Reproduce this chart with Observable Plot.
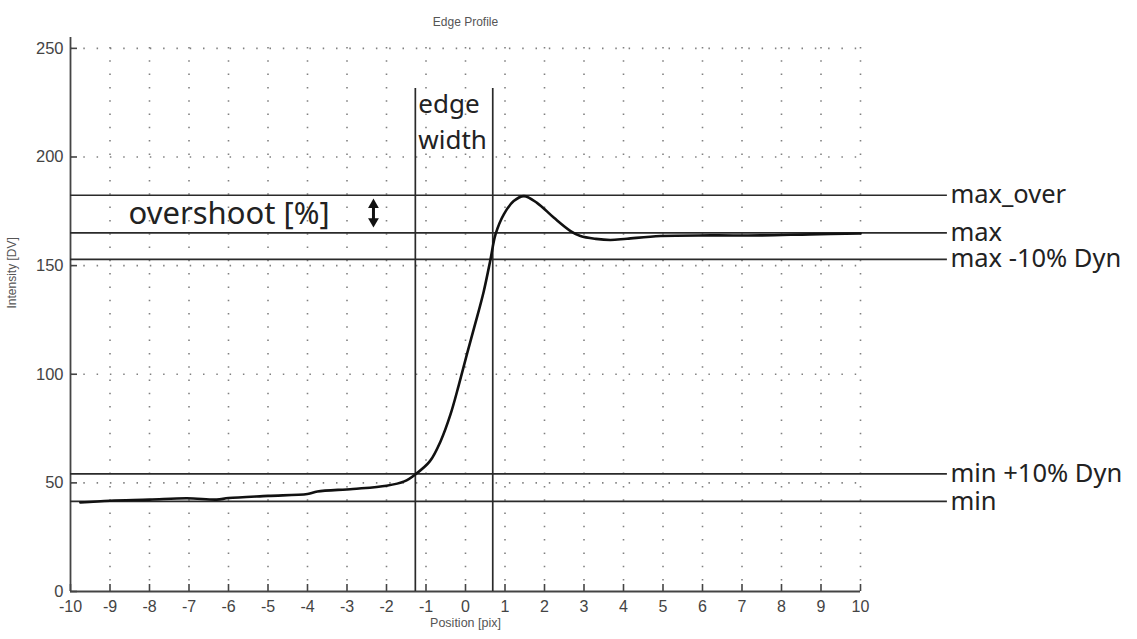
<!DOCTYPE html>
<html><head><meta charset="utf-8">
<script src="https://cdn.jsdelivr.net/npm/d3@7"></script>
<script src="https://cdn.jsdelivr.net/npm/@observablehq/plot@0.6"></script>
<style>body{margin:0;background:#fff}</style>
</head><body><div id="chart"></div>
<script>
// Edge profile samples
const positions   = [-9.75,-9.0,-8.0,-7.05,-6.3,-6.0,-5.0,-4.0,-3.75,-2.85,-2.0,-1.55,-1.27,-0.9,-0.63,-0.38,-0.17,0.04,0.25,0.46,0.63,0.76,0.97,1.22,1.48,1.81,2.24,2.66,2.91,3.3,3.67,4.09,4.94,6.2,7.47,8.73,10];
const intensities = [41.0,41.8,42.3,42.9,42.3,43.0,44.0,44.9,46.0,47.2,48.7,50.7,53.9,60.0,69.2,81.5,95.0,109.5,123.5,138.0,152.6,164.4,173.6,179.7,182.0,178.9,172.0,165.9,163.6,162.3,161.8,162.4,163.6,163.9,163.9,164.4,164.8];
// Reference levels
const levelLabels = ["max_over", "max", "max -10% Dyn", "min +10% Dyn", "min"];
const levelValues = [182.4, 165.1, 152.9, 54.1, 41.5];
// Edge width bounds
const edgeBounds = [-1.27, 0.69];
const edgeWords = ["edge", "width"];
// Ticks
const xTicks = [-10,-9,-8,-7,-6,-5,-4,-3,-2,-1,0,1,2,3,4,5,6,7,8,9,10];
const yTicks = [0, 50, 100, 150, 200, 250];
const titleText = "Edge Profile";
const xLabel = "Position [pix]";
const yLabel = "Intensity [DV]";
const overshootText = "overshoot [%]";

const W = 1137, H = 639, mL = 70, mR = 277, mT = 37, mB = 48;
const fw = W - mL - mR, fh = H - mT - mB;
const profile = positions.map((x, i) => ({x, y: intensities[i]}));
const levels = levelLabels.map((label, i) => ({label, value: levelValues[i]}));
const labelX = 12.2;
const edgeTop = 231.5;
const overshootMid = (levelValues[0] + levelValues[1]) / 2;
const arrowX = -2.33;
const annFont = "'Noto Sans', 'Open Sans', sans-serif";
const dotted = {stroke: "#808080", strokeOpacity: 1, strokeWidth: 1.6, strokeDasharray: "1.5,11.8"};

const chart = Plot.plot({
  width: W, height: H,
  marginLeft: mL, marginRight: mR, marginTop: mT, marginBottom: mB,
  x: {domain: [-10, 10]},
  y: {domain: [0, 255]},
  style: {fontFamily: "'Liberation Sans', Arial, sans-serif", background: "#fff", overflow: "visible"},
  marks: [
    Plot.gridX(xTicks.filter(d => d > -10), {...dotted, insetTop: 10}),
    Plot.gridY(yTicks.filter(d => d > 0), {...dotted}),
    Plot.ruleX([-10], {y1: 0, y2: 255, stroke: "#444", strokeWidth: 1.8}),
    Plot.ruleY([0], {x1: -10, x2: 10, stroke: "#444", strokeWidth: 1.8}),
    Plot.tickX(xTicks, {x: d => d, insetTop: fh - 7, stroke: "#444", strokeWidth: 1.6}),
    Plot.tickY(yTicks, {y: d => d, insetRight: fw - 7, stroke: "#444", strokeWidth: 1.6}),
    Plot.axisX(xTicks, {tickSize: 0, tickPadding: 9, fontSize: 16, fill: "#444", label: null, tickFormat: d => String(d)}),
    Plot.axisY(yTicks, {tickSize: 0, tickPadding: 7, fontSize: 16.5, fill: "#444", label: null, tickFormat: d => String(d)}),
    // reference levels
    Plot.ruleY(levels, {y: "value", x1: -10, x2: labelX, stroke: "#2a2a2a", strokeWidth: 1.7}),
    Plot.text(levels, {x: labelX, y: "value", text: "label", textAnchor: "start", dx: 3, fontSize: 25.5, fontFamily: annFont, fill: "#222"}),
    // edge width bounds
    Plot.ruleX(edgeBounds, {x: d => d, y1: 0, y2: edgeTop, stroke: "#2a2a2a", strokeWidth: 1.7}),
    Plot.text(edgeWords, {x: edgeBounds[0], y: [224.3, 207.7], text: d => d, textAnchor: "start", dx: 3, fontSize: 26, fontFamily: annFont, fill: "#222"}),
    // overshoot annotation
    Plot.text([overshootText], {x: -8.53, y: overshootMid, text: d => d, textAnchor: "start", fontSize: 31, fontFamily: annFont, fill: "#222"}),
    Plot.ruleX([arrowX], {y1: 170.4, y2: 178.0, stroke: "#111", strokeWidth: 3}),
    Plot.dot([178.0], {x: arrowX, y: d => d, symbol: "triangle", r: 4, fill: "#111"}),
    Plot.dot([170.4], {x: arrowX, y: d => d, symbol: "triangle", r: 4, fill: "#111", rotate: 180}),
    // profile curve
    Plot.line(profile, {x: "x", y: "y", stroke: "#111", strokeWidth: 2.6, curve: "catmull-rom"}),
    // titles
    Plot.text([titleText], {frameAnchor: "top", text: d => d, dy: -20, fontSize: 12, fill: "#555"}),
    Plot.text([xLabel], {frameAnchor: "bottom", text: d => d, dy: 35, fontSize: 12.5, fill: "#555"}),
    Plot.text([yLabel], {frameAnchor: "left", text: d => d, rotate: -90, dx: -58, dy: -6, fontSize: 12, fill: "#555"})
  ]
});
document.getElementById("chart").append(chart);
</script>
</body></html>
